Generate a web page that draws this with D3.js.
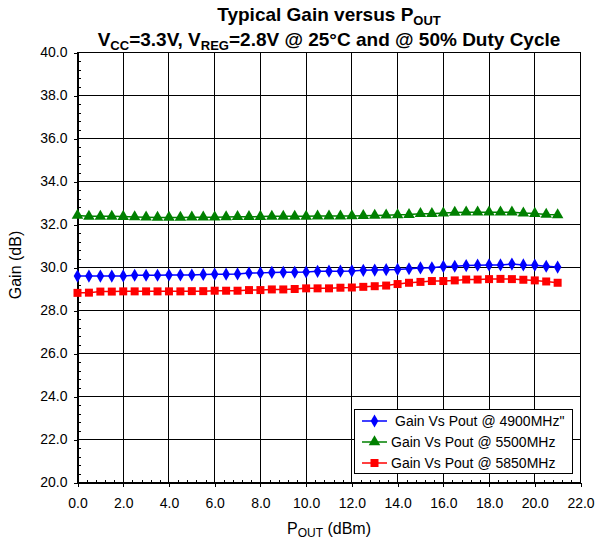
<!DOCTYPE html>
<html><head><meta charset="utf-8">
<script src="https://cdn.jsdelivr.net/npm/d3@7"></script>
<style>
body{margin:0;background:#fff}
text{font-family:"Liberation Sans",Arial,Helvetica,sans-serif;fill:#000}
</style>
</head><body>
<svg id="chart" width="596" height="543"></svg>
<script>
const pout = [0,0.5,1,1.5,2,2.5,3,3.5,4,4.5,5,5.5,6,6.5,7,7.5,8,8.5,9,9.5,10,10.5,11,11.5,12,12.5,13,13.5,14,14.5,15,15.5,16,16.5,17,17.5,18,18.5,19,19.5,20,20.5,21];
const gain4900 = [29.60,29.60,29.60,29.60,29.61,29.64,29.64,29.64,29.65,29.65,29.65,29.68,29.69,29.69,29.70,29.74,29.75,29.77,29.78,29.78,29.79,29.82,29.83,29.83,29.84,29.87,29.88,29.90,29.91,29.94,29.98,29.99,30.05,30.06,30.09,30.11,30.12,30.12,30.16,30.12,30.11,30.06,30.02];
const gain5500 = [32.42,32.38,32.38,32.38,32.37,32.35,32.34,32.33,32.33,32.33,32.34,32.34,32.34,32.35,32.36,32.36,32.37,32.38,32.38,32.38,32.38,32.39,32.39,32.39,32.40,32.41,32.42,32.43,32.45,32.46,32.50,32.50,32.53,32.56,32.57,32.57,32.57,32.57,32.57,32.53,32.51,32.47,32.45];
const gain5850 = [28.82,28.83,28.88,28.88,28.89,28.89,28.89,28.89,28.89,28.89,28.90,28.90,28.92,28.92,28.92,28.95,28.95,28.98,28.98,29.00,29.03,29.03,29.03,29.06,29.07,29.10,29.13,29.16,29.23,29.29,29.33,29.37,29.37,29.40,29.44,29.44,29.46,29.47,29.46,29.43,29.40,29.35,29.29];
const xTickValues = [0,2,4,6,8,10,12,14,16,18,20,22];
const yTickValues = [20,22,24,26,28,30,32,34,36,38,40];
const seriesNames = ['Gain Vs Pout @ 4900MHz"', 'Gain Vs Pout @ 5500MHz', 'Gain Vs Pout @ 5850MHz'];
const seriesColors = ['#0000ff', '#008000', '#ff0000'];

const svg = d3.select('#chart');
const L = 77.5, R = 580.5, T = 52.5, B = 482.5;
const x = d3.scaleLinear().domain([0,22]).range([L,R]);
const y = d3.scaleLinear().domain([20,40]).range([B,T]);

// grid
const grid = svg.append('g').attr('shape-rendering','crispEdges');
grid.selectAll('.vg').data(xTickValues).join('line')
  .attr('x1',d=>x(d)).attr('x2',d=>x(d)).attr('y1',T).attr('y2',B)
  .attr('stroke','#000').attr('stroke-width',1);
grid.selectAll('.hg').data(yTickValues).join('line')
  .attr('x1',L).attr('x2',R).attr('y1',d=>y(d)).attr('y2',d=>y(d))
  .attr('stroke','#000').attr('stroke-width',1);

// minor ticks
const xMinor = d3.range(0,22.001,0.4).filter(v=>Math.abs(v/2-Math.round(v/2))>1e-6);
const yMinor = d3.range(20,40.001,0.4).filter(v=>Math.abs(v/2-Math.round(v/2))>1e-6);
const xa = svg.append('g').attr('transform',`translate(0,${B})`)
  .call(d3.axisBottom(x).tickValues(xTickValues).tickFormat(d3.format('.1f')).tickSizeInner(4).tickSizeOuter(0).tickPadding(12));
const xm = svg.append('g').attr('transform',`translate(0,${B})`)
  .call(d3.axisBottom(x).tickValues(xMinor).tickFormat('').tickSizeInner(-3).tickSizeOuter(0));
const ya = svg.append('g').attr('transform',`translate(${L},0)`)
  .call(d3.axisLeft(y).tickValues(yTickValues).tickFormat(d3.format('.1f')).tickSizeInner(4).tickSizeOuter(0).tickPadding(6));
const ym = svg.append('g').attr('transform',`translate(${L},0)`)
  .call(d3.axisLeft(y).tickValues(yMinor).tickFormat('').tickSizeInner(-3).tickSizeOuter(0));
[xa,xm,ya,ym].forEach(g=>{
  g.attr('shape-rendering','crispEdges');
  g.selectAll('path,line').attr('stroke','#000');
  g.selectAll('text').attr('font-size',14).attr('font-family','"Liberation Sans",Arial,sans-serif').attr('fill','#000');
});
// border
svg.append('rect').attr('x',L).attr('y',T).attr('width',R-L).attr('height',B-T)
  .attr('fill','none').attr('stroke','#000').attr('shape-rendering','crispEdges');

// series
const seriesData = [gain4900, gain5500, gain5850];
const symbols = [d3.symbolDiamond, d3.symbolTriangle, d3.symbolSquare];
const symSizes = [50, 58, 64];
const line = d3.line().x(d=>x(d[0])).y(d=>y(d[1]));
seriesData.forEach((vals,i)=>{
  const pts = pout.map((p,j)=>[p,vals[j]]);
  svg.append('path').datum(pts).attr('d',line).attr('fill','none')
    .attr('stroke',seriesColors[i]).attr('stroke-width',1.5);
  svg.append('g').selectAll('path').data(pts).join('path')
    .attr('transform',d=>`translate(${x(d[0])},${y(d[1])})`)
    .attr('d',d3.symbol().type(symbols[i]).size(symSizes[i]))
    .attr('fill',seriesColors[i]);
});

// legend
const lg = svg.append('g');
lg.append('rect').attr('x',354.5).attr('y',409.5).attr('width',218).attr('height',64)
  .attr('fill','#fff').attr('stroke','#000').attr('shape-rendering','crispEdges');
seriesNames.forEach((n,i)=>{
  const yy = 421 + i*21;
  lg.append('line').attr('x1',362).attr('x2',387).attr('y1',yy).attr('y2',yy)
    .attr('stroke',seriesColors[i]).attr('stroke-width',1.5);
  lg.append('path').attr('transform',`translate(374.5,${yy})`)
    .attr('d',d3.symbol().type(symbols[i]).size(symSizes[i])).attr('fill',seriesColors[i]);
  lg.append('text').attr('x', i===0?395:391).attr('y',yy+5).attr('font-size',14).text(n);
});

// titles
const t1 = svg.append('text').attr('x',329).attr('y',21).attr('text-anchor','middle')
  .attr('font-size',19).attr('font-weight','bold');
t1.append('tspan').text('Typical Gain versus P');
t1.append('tspan').attr('font-size',13).attr('dy',4).text('OUT');

const t2 = svg.append('text').attr('x',329).attr('y',46).attr('text-anchor','middle')
  .attr('font-size',19).attr('font-weight','bold');
t2.append('tspan').text('V');
t2.append('tspan').attr('font-size',13).attr('dy',4).text('CC');
t2.append('tspan').attr('dy',-4).text('=3.3V, V');
t2.append('tspan').attr('font-size',13).attr('dy',4).text('REG');
t2.append('tspan').attr('dy',-4).text('=2.8V @ 25°C and @ 50% Duty Cycle');

const xt = svg.append('text').attr('x',329).attr('y',534).attr('text-anchor','middle').attr('font-size',16);
xt.append('tspan').text('P');
xt.append('tspan').attr('font-size',12).attr('dy',3).text('OUT');
xt.append('tspan').attr('dy',-3).text(' (dBm)');

svg.append('text').attr('transform','translate(21,265) rotate(-90)').attr('text-anchor','middle')
  .attr('font-size',16).text('Gain (dB)');
</script>
</body></html>
